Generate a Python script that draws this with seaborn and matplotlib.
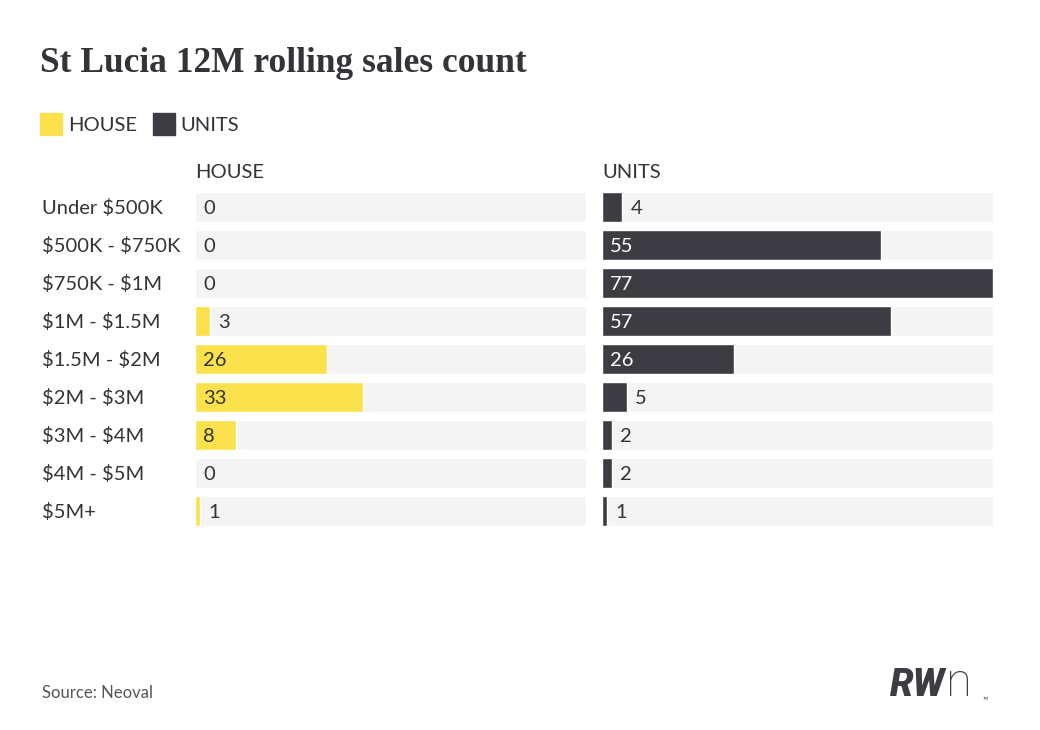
import matplotlib
matplotlib.use("Agg")
import matplotlib.pyplot as plt
import matplotlib.transforms as mtransforms
import seaborn as sns

sns.set_theme(style="white")
plt.rcParams["font.family"] = ["Lato", "DejaVu Sans"]
plt.rcParams["text.parse_math"] = False

categories = ["Under $500K", "$500K - $750K", "$750K - $1M", "$1M - $1.5M",
              "$1.5M - $2M", "$2M - $3M", "$3M - $4M", "$4M - $5M", "$5M+"]
house = [0, 0, 0, 3, 26, 33, 8, 0, 1]
units = [4, 55, 77, 57, 26, 5, 2, 2, 1]

YELLOW = "#fbe24d"
DARK = "#3d3c42"
TRACK = "#f4f4f4"
TEXT = "#333338"

W, H = 1040, 730
fig = plt.figure(figsize=(10.4, 7.3), dpi=100)
fig.patch.set_facecolor("white")

top_px, bot_px = 188, 530
panels = [("HOUSE", house, YELLOW, TEXT, 195),
          ("UNITS", units, DARK, "white", 602)]
xmax = max(max(house), max(units))
track = [xmax] * len(categories)

axes = []
for name, vals, color, inside_col, left_px in panels:
    ax = fig.add_axes([left_px / W, 1 - bot_px / H, 391 / W, (bot_px - top_px) / H])
    sns.barplot(x=track, y=categories, orient="h", color=TRACK, width=0.8,
                saturation=1, ax=ax)
    sns.barplot(x=vals, y=categories, orient="h", color=color, width=0.8,
                saturation=1, ax=ax)
    ax.set_xlim(0, xmax)
    ax.set_ylim(len(categories) - 0.5, -0.5)
    ax.set_axis_off()
    ppx = 391 / xmax  # pixels per unit
    for i, v in enumerate(vals):
        if v * ppx > 30:
            ax.annotate(str(v), (0, i), xytext=(8, 0), textcoords="offset pixels",
                        va="center_baseline", ha="left", fontsize=14.5,
                        color=inside_col)
        else:
            ax.annotate(str(v), (v, i), xytext=(8, 0), textcoords="offset pixels",
                        va="center_baseline", ha="left", fontsize=14.5, color=TEXT)
    fig.text(left_px / W, 1 - 171 / H, name, fontsize=14.5, color=TEXT,
             va="center_baseline", ha="left")
    axes.append(ax)

# category labels
trans = mtransforms.blended_transform_factory(fig.transFigure, axes[0].transData)
for i, c in enumerate(categories):
    axes[0].text(42 / W, i, c, transform=trans, fontsize=14.5, color=TEXT,
                 va="center_baseline", ha="left")

# title
fig.text(40 / W, 1 - 63 / H, "St Lucia 12M rolling sales count",
         family=["Liberation Serif", "DejaVu Serif"], fontweight="bold",
         fontsize=25.5, color=TEXT, va="center", ha="left")

# legend
fig.patches.append(plt.Rectangle((40 / W, 1 - 135 / H), 22 / W, 22 / H,
                                 transform=fig.transFigure, color=YELLOW))
fig.text(68 / W, 1 - 124 / H, "HOUSE", fontsize=14.5, color=TEXT,
         va="center_baseline")
fig.patches.append(plt.Rectangle((153 / W, 1 - 135 / H), 22 / W, 22 / H,
                                 transform=fig.transFigure, color=DARK))
fig.text(180 / W, 1 - 124 / H, "UNITS", fontsize=14.5, color=TEXT,
         va="center_baseline")

# source
fig.text(42 / W, 1 - 691 / H, "Source: Neoval", fontsize=12, color="#555555",
         va="center_baseline", ha="left")

# logo
fig.text(890 / W, 1 - 686 / H, "RW", family="Roboto", fontweight="black",
         style="italic", fontsize=27, color=DARK, va="center", ha="left")
fig.text(946 / W, 1 - 683 / H, "n", family="Roboto", fontweight="light",
         fontsize=34, color=DARK, va="center", ha="left")
fig.text(983 / W, 1 - 699 / H, "TM", fontsize=3, color=DARK, va="center", ha="left")

fig.savefig("out.png", dpi=100)
